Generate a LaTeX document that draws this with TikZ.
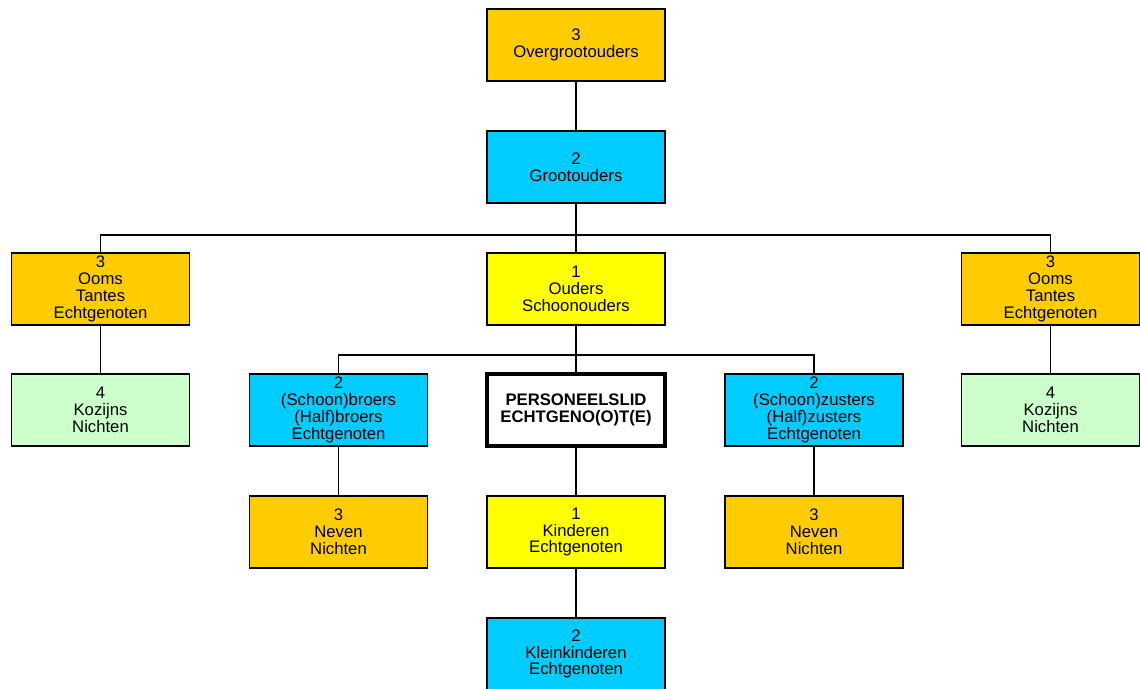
\documentclass[tikz,border=0pt]{standalone}
\usepackage{fontspec}
\setmainfont{Liberation Sans}
\definecolor{oranje}{HTML}{FFCC00}
\definecolor{blauw}{HTML}{00CCFF}
\definecolor{geel}{HTML}{FFFF00}
\definecolor{groen}{HTML}{CCFFCC}
\tikzset{
  box/.style={draw, line width=0.6pt, minimum width=3.56cm, minimum height=1.44cm,
    inner sep=0pt, align=center, font=\fontsize{9.5}{9.6}\selectfont},
  lijn/.style={line width=0.6pt}
}
\begin{document}
\begin{tikzpicture}
\useasboundingbox (0,0) rectangle (22.8,13.76);
% rij 1 en 2
\node[box, fill=oranje] (ovg) at (11.52,12.86) {3\\Overgrootouders};
\node[box, fill=blauw] (grt) at (11.52,10.42) {2\\Grootouders};
% rij 3
\node[box, fill=oranje] (oomL) at (2.01,7.98) {3\\Ooms\\Tantes\\Echtgenoten};
\node[box, fill=geel] (oud) at (11.52,7.98) {1\\Ouders\\Schoonouders};
\node[box, fill=oranje] (oomR) at (21.01,7.98) {3\\Ooms\\Tantes\\Echtgenoten};
% rij 4
\node[box, fill=groen] (kozL) at (2.01,5.56) {4\\Kozijns\\Nichten};
\node[box, fill=blauw] (broer) at (6.77,5.56) {2\\(Schoon)broers\\(Half)broers\\Echtgenoten};
\node[box, fill=white, line width=1.8pt, font=\fontsize{9.5}{9.6}\selectfont\bfseries] (pers) at (11.52,5.56) {PERSONEELSLID\\ECHTGENO(O)T(E)};
\node[box, fill=blauw] (zus) at (16.28,5.56) {2\\(Schoon)zusters\\(Half)zusters\\Echtgenoten};
\node[box, fill=groen] (kozR) at (21.01,5.56) {4\\Kozijns\\Nichten};
% rij 5 en 6
\node[box, fill=oranje] (nevL) at (6.77,3.12) {3\\Neven\\Nichten};
\node[box, fill=geel] (kind) at (11.52,3.12) {1\\Kinderen\\Echtgenoten};
\node[box, fill=oranje] (nevR) at (16.28,3.12) {3\\Neven\\Nichten};
\node[box, fill=blauw] (klein) at (11.52,0.68) {2\\Kleinkinderen\\Echtgenoten};
% verbindingen
\coordinate (bus1) at (11.52,9.06);
\coordinate (bus2) at (11.52,6.66);
\draw[lijn] (ovg) -- (grt);
\draw[lijn] (grt) -- (oud);
\draw[lijn] (oomL.north) |- (bus1) -| (oomR.north);
\draw[lijn] (oomL) -- (kozL);
\draw[lijn] (oomR) -- (kozR);
\draw[lijn] (oud) -- (pers);
\draw[lijn] (broer.north) |- (bus2) -| (zus.north);
\draw[lijn] (broer) -- (nevL);
\draw[lijn] (zus) -- (nevR);
\draw[lijn] (pers) -- (kind);
\draw[lijn] (kind) -- (klein);
\end{tikzpicture}
\end{document}
